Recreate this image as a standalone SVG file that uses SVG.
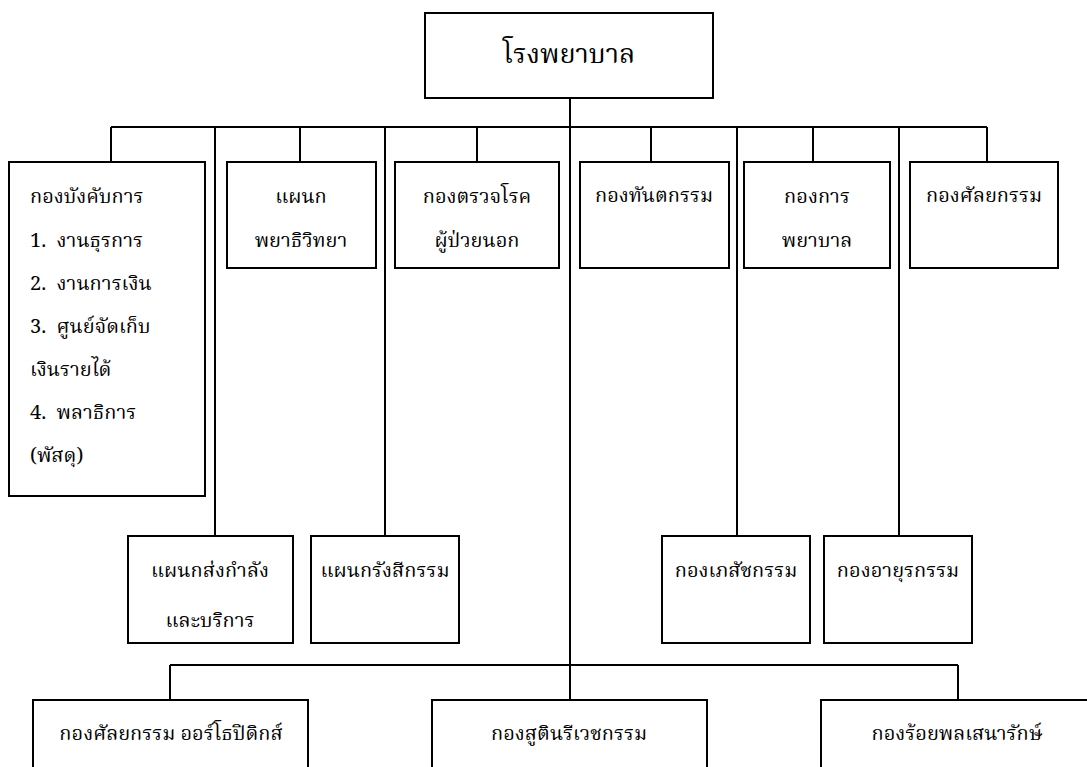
<svg xmlns="http://www.w3.org/2000/svg" width="1087" height="767" viewBox="0 0 1087 767">
<style>
rect{fill:#fff;stroke:#000;stroke-width:2}
.c{fill:none;stroke:#000;stroke-width:2}
text{font-family:"Noto Serif Thai","Liberation Serif","Noto Sans",serif;font-size:20px;fill:#000;white-space:pre}
.m{text-anchor:middle}
.t{font-size:27px}
</style>
<rect width="1087" height="767" style="fill:#fff;stroke:none"/>
<g id="connectors">
<path class="c" d="M570 98V700M111 127H987M111 127V162M300 127V162M477 127V162M651 127V162M813 127V162M987 127V162M215 127V536M385 127V536M737 127V536M899 127V536M170 665H958M170 665V700M958 665V700"/>
</g>
<g id="n0"><rect x="425" y="13" width="288" height="85"/><text class="m t" x="569" y="63">โรงพยาบาล</text></g>
<g id="n1"><rect x="9" y="162" width="196" height="334"/>
<text x="30" y="203">กองบังคับการ</text>
<text x="30" y="247">1.  งานธุรการ</text>
<text x="30" y="290">2.  งานการเงิน</text>
<text x="30" y="333">3.  ศูนย์จัดเก็บ</text>
<text x="30" y="376">เงินรายได้</text>
<text x="30" y="419">4.  พลาธิการ</text>
<text x="30" y="462">(พัสดุ)</text></g>
<g id="n2"><rect x="227" y="162" width="149" height="106"/><text class="m" x="301" y="203">แผนก</text><text class="m" x="301" y="247">พยาธิวิทยา</text></g>
<g id="n3"><rect x="395" y="162" width="164" height="106"/><text class="m" x="477" y="203">กองตรวจโรค</text><text class="m" x="477" y="247">ผู้ป่วยนอก</text></g>
<g id="n4"><rect x="580" y="162" width="149" height="106"/><text class="m" x="654" y="202">กองทันตกรรม</text></g>
<g id="n5"><rect x="744" y="162" width="146" height="106"/><text class="m" x="817" y="203">กองการ</text><text class="m" x="817" y="247">พยาบาล</text></g>
<g id="n6"><rect x="910" y="162" width="148" height="106"/><text class="m" x="984" y="202">กองศัลยกรรม</text></g>
<g id="n7"><rect x="128" y="536" width="165" height="107"/><text class="m" x="210" y="577">แผนกส่งกำลัง</text><text class="m" x="210" y="627">และบริการ</text></g>
<g id="n8"><rect x="311" y="536" width="148" height="107"/><text class="m" x="385" y="577">แผนกรังสีกรรม</text></g>
<g id="n9"><rect x="662" y="536" width="148" height="107"/><text class="m" x="736" y="577">กองเภสัชกรรม</text></g>
<g id="n10"><rect x="824" y="536" width="148" height="107"/><text class="m" x="898" y="577">กองอายุรกรรม</text></g>
<g id="n11"><rect x="33" y="700" width="275" height="80"/><text class="m" x="171" y="740">กองศัลยกรรม ออร์โธปิดิกส์</text></g>
<g id="n12"><rect x="432" y="700" width="275" height="80"/><text class="m" x="569" y="740">กองสูตินรีเวชกรรม</text></g>
<g id="n13"><rect x="821" y="700" width="280" height="80"/><text class="m" x="957" y="740">กองร้อยพลเสนารักษ์</text></g>
</svg>
